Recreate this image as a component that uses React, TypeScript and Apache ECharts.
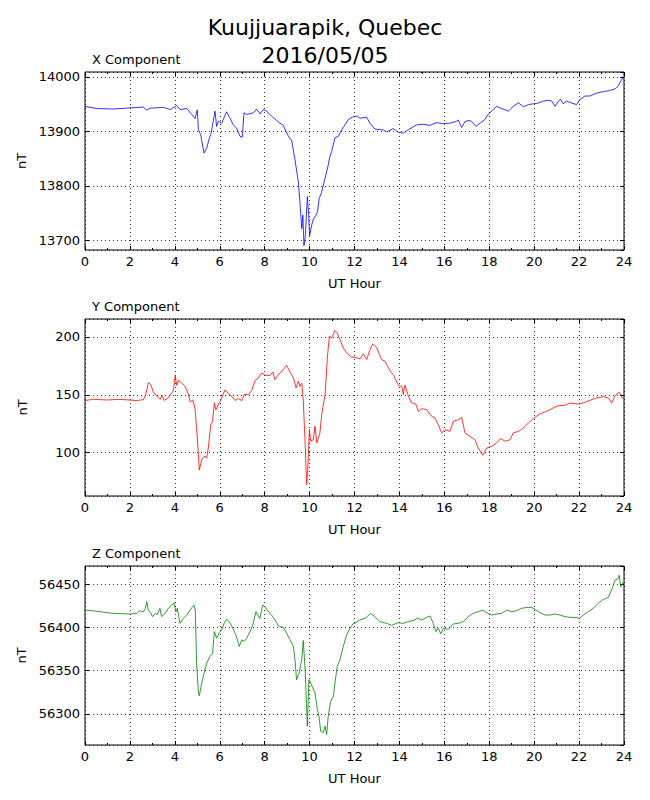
import React, { useEffect, useRef } from "react";
import * as echarts from "echarts";

const FONT = "DejaVu Sans";

const mainTitle = "Kuujjuarapik, Quebec\n2016/05/05";
const panelTitles = ["X Component", "Y Component", "Z Component"];
const xTickLabels = ["0", "2", "4", "6", "8", "10", "12", "14", "16", "18", "20", "22", "24"];

const xHours = [0, 0.52, 1.26, 2.0, 2.6, 2.75, 2.9, 3.5, 3.8, 4.08, 4.23, 4.53, 4.75, 4.9, 5.0, 5.05, 5.15, 5.3, 5.42, 5.54, 5.6, 5.67, 5.79, 5.86, 5.94, 6.09, 6.3, 6.45, 6.6, 6.75, 6.9, 7.0, 7.08, 7.2, 7.5, 7.64, 7.8, 7.94, 8.09, 8.3, 8.53, 8.68, 8.83, 8.98, 9.13, 9.2, 9.35, 9.5, 9.57, 9.65, 9.7, 9.75, 9.81, 9.9, 9.96, 10.0, 10.09, 10.17, 10.29, 10.35, 10.43, 10.52, 10.69, 10.83, 10.9, 10.98, 11.13, 11.28, 11.43, 11.58, 11.73, 11.95, 12.1, 12.24, 12.54, 12.69, 12.91, 13.28, 13.43, 13.73, 13.95, 14.17, 14.4, 14.77, 15.07, 15.36, 15.66, 15.96, 16.25, 16.55, 16.62, 16.77, 16.92, 17.1, 17.22, 17.41, 17.59, 17.8, 17.95, 18.18, 18.33, 18.55, 18.85, 19.07, 19.3, 19.52, 19.74, 19.96, 20.19, 20.41, 20.63, 20.78, 20.93, 21.08, 21.18, 21.29, 21.44, 21.67, 21.89, 22.04, 22.26, 22.48, 22.71, 22.86, 23.08, 23.37, 23.6, 23.74, 23.85, 23.97];
const xValues = [13945.7, 13942, 13941, 13943, 13944.5, 13939, 13942.6, 13944, 13940, 13947.5, 13940, 13942, 13931, 13923.5, 13939.5, 13903, 13894, 13860, 13869, 13888, 13894, 13909, 13937, 13909, 13918.5, 13915, 13936, 13925, 13912, 13906, 13891, 13889, 13934, 13931, 13934, 13941, 13932, 13940, 13937, 13928, 13920, 13915, 13911, 13897, 13886, 13884, 13847.5, 13807, 13770, 13721, 13746, 13690, 13708, 13780, 13746, 13708, 13727, 13739, 13746, 13752, 13777, 13786, 13814, 13838, 13853, 13863, 13888, 13891, 13903, 13912, 13922, 13927, 13928, 13924, 13926, 13915, 13904, 13902.5, 13899, 13905, 13898, 13897, 13903, 13912, 13913, 13911, 13916, 13914, 13915, 13918.5, 13921, 13907, 13918, 13920, 13918, 13909, 13915, 13921.6, 13931, 13940, 13946, 13942, 13937, 13946, 13952.5, 13945, 13949, 13950.6, 13952, 13955.6, 13957, 13955.6, 13946, 13955.6, 13958.6, 13950.6, 13955.6, 13952, 13949, 13958.6, 13964.8, 13964.8, 13969, 13971, 13972.8, 13975, 13977.8, 13983, 13992, 13999];

const yHours = [0, 0.37, 0.96, 1.56, 2.3, 2.6, 2.7, 2.82, 2.93, 3.04, 3.22, 3.34, 3.43, 3.52, 3.67, 3.81, 3.93, 4.02, 4.08, 4.16, 4.3, 4.45, 4.6, 4.68, 4.8, 4.9, 4.97, 5.05, 5.09, 5.2, 5.3, 5.42, 5.49, 5.6, 5.68, 5.76, 5.83, 5.94, 6.09, 6.23, 6.38, 6.53, 6.68, 6.83, 6.98, 7.12, 7.27, 7.42, 7.57, 7.72, 7.87, 8.01, 8.24, 8.36, 8.46, 8.61, 8.83, 8.98, 9.13, 9.28, 9.4, 9.5, 9.57, 9.65, 9.72, 9.81, 9.87, 9.93, 9.99, 10.05, 10.17, 10.24, 10.32, 10.39, 10.46, 10.54, 10.69, 10.79, 10.88, 10.98, 11.13, 11.23, 11.35, 11.5, 11.65, 11.87, 12.02, 12.24, 12.39, 12.54, 12.69, 12.81, 12.99, 13.21, 13.36, 13.59, 13.73, 13.96, 14.11, 14.17, 14.25, 14.4, 14.54, 14.73, 14.84, 14.99, 15.21, 15.43, 15.58, 15.73, 15.88, 16.03, 16.25, 16.4, 16.62, 16.77, 16.92, 17.14, 17.36, 17.51, 17.71, 17.89, 18.11, 18.33, 18.51, 18.71, 18.93, 19.07, 19.3, 19.52, 19.74, 19.96, 20.25, 20.55, 20.85, 21.07, 21.37, 21.59, 21.96, 22.18, 22.48, 22.78, 23.08, 23.3, 23.45, 23.6, 23.79, 23.9, 24];
const yValues = [145, 146.1, 145.5, 146, 145, 145.8, 150, 160.5, 158.8, 152.4, 148.4, 146, 149.3, 145.2, 146.7, 150, 153.6, 166.3, 158.2, 162.5, 160.2, 157.3, 150.7, 143.8, 145.5, 137.8, 121.3, 98.3, 85, 94, 96.8, 95.4, 104, 124.2, 127, 143, 137, 141.5, 147.3, 154.2, 151.3, 148.7, 145, 146.7, 145, 150.7, 150, 153.6, 162.2, 164.6, 168.9, 166.9, 166.6, 169.7, 163.1, 167.4, 171.8, 175.5, 169.7, 164.6, 155.9, 161.7, 157.3, 160, 145, 104, 72.3, 89.6, 120, 109.8, 111.2, 122.8, 108.4, 112.7, 117, 132.9, 150.1, 181.8, 200.6, 199, 205.5, 203.5, 197.7, 190.5, 186.2, 182.4, 182.4, 181, 185.3, 180.4, 189, 194, 190.5, 180.4, 179, 170.3, 167.4, 158, 157.3, 150.1, 158.2, 148.7, 143, 142, 135.7, 138, 137.2, 131.4, 130, 124.2, 117, 119.9, 118.4, 127, 128.5, 130.5, 117, 114.1, 111.2, 104, 97.7, 104, 105.5, 108.4, 112.1, 109.8, 111.2, 117, 118.4, 121.3, 125.6, 129.4, 133.4, 135.7, 138.6, 140.6, 140.9, 142.9, 142, 142.9, 145.2, 147.3, 148.4, 147.3, 142.9, 149.3, 152.2, 147.8, 146.7];

const zHours = [0, 0.67, 1.26, 2.0, 2.3, 2.42, 2.6, 2.69, 2.75, 2.82, 2.92, 3.01, 3.12, 3.22, 3.34, 3.41, 3.56, 3.71, 3.86, 3.96, 4.05, 4.11, 4.23, 4.38, 4.53, 4.68, 4.79, 4.85, 4.91, 4.97, 5.05, 5.09, 5.2, 5.3, 5.42, 5.56, 5.68, 5.76, 5.86, 5.98, 6.09, 6.19, 6.31, 6.43, 6.58, 6.72, 6.87, 6.98, 7.08, 7.2, 7.35, 7.47, 7.61, 7.72, 7.79, 7.91, 8.01, 8.16, 8.31, 8.46, 8.61, 8.83, 8.98, 9.13, 9.28, 9.35, 9.42, 9.53, 9.65, 9.72, 9.81, 9.9, 9.97, 10.05, 10.14, 10.24, 10.35, 10.43, 10.49, 10.61, 10.69, 10.76, 10.83, 10.94, 11.06, 11.13, 11.23, 11.35, 11.5, 11.65, 11.8, 11.95, 12.02, 12.24, 12.47, 12.72, 12.91, 13.13, 13.43, 13.65, 13.95, 14.17, 14.4, 14.7, 14.77, 14.99, 15.21, 15.36, 15.51, 15.63, 15.73, 15.84, 15.96, 16.18, 16.4, 16.62, 16.84, 17.06, 17.28, 17.51, 17.73, 17.88, 18.11, 18.33, 18.55, 18.78, 19.0, 19.22, 19.44, 19.67, 19.89, 20.04, 20.26, 20.48, 20.7, 20.93, 21.15, 21.37, 21.59, 21.82, 22.01, 22.19, 22.41, 22.63, 22.85, 23.08, 23.3, 23.45, 23.6, 23.75, 23.79, 23.85, 23.94, 24];
const zValues = [56420.1, 56418.2, 56416.2, 56415.5, 56416, 56419.3, 56418, 56422, 56429.7, 56420, 56417, 56412.4, 56416, 56415, 56422, 56412.4, 56416, 56422, 56425.8, 56428.5, 56418, 56422, 56404.7, 56410.5, 56414.3, 56420, 56423.9, 56425.8, 56420, 56358.7, 56324, 56321, 56335.7, 56347, 56358.7, 56366.4, 56370, 56395.1, 56387.5, 56394, 56397, 56404.7, 56409.3, 56406.6, 56399, 56391.3, 56377.9, 56385.6, 56383.7, 56387.5, 56395.1, 56402.8, 56418.2, 56413.2, 56410.5, 56425.8, 56423.9, 56418.2, 56414.3, 56408.6, 56401.7, 56400, 56393.2, 56385.6, 56377.9, 56362.5, 56339.5, 56347, 56362.5, 56384.8, 56347, 56285.8, 56339.5, 56335.7, 56330, 56324.2, 56305, 56295.4, 56280, 56278.2, 56285.8, 56276.2, 56297.3, 56314.6, 56320.4, 56335.7, 56354.9, 56362.5, 56377.9, 56391.3, 56399, 56404.7, 56404.7, 56408.6, 56410.5, 56416.2, 56412.4, 56406.6, 56404.7, 56402.4, 56405.5, 56404.7, 56406.6, 56408.6, 56411, 56408.6, 56411.6, 56413.2, 56404.7, 56395.1, 56399, 56392.5, 56399, 56397.8, 56404, 56404.7, 56406.6, 56412.4, 56416.2, 56418.2, 56420, 56417, 56414.3, 56415.5, 56416.2, 56420, 56418.2, 56419.3, 56422, 56423.1, 56423.1, 56420.8, 56417, 56414.3, 56414.3, 56415.5, 56414.3, 56412.4, 56411.6, 56411.6, 56410.5, 56414.3, 56418.2, 56422, 56427.8, 56432.4, 56434.7, 56443.1, 56454.6, 56456.5, 56460.4, 56447, 56451.5, 56450];

const yRanges = [
  [13682, 14009],
  [62.5, 215.5],
  [56264, 56471],
];
const yIntervals = [100, 50, 50];
const lineColors = ["#0000ff", "#ff0000", "#008000"];

function pairs(h: number[], v: number[]) {
  return h.map((x, i) => [x, v[i]]);
}

export default function App() {
  const ref = useRef<HTMLDivElement>(null);
  useEffect(() => {
    if (!ref.current) return;
    const chart = echarts.init(ref.current, null, { renderer: "svg" });
    const tops = [72, 319, 566];
    const heights = [178, 177, 179];
    const seriesData = [pairs(xHours, xValues), pairs(yHours, yValues), pairs(zHours, zValues)];
    const txt = { color: "#000", fontFamily: FONT, fontSize: 13 };
    const grids: any[] = [];
    const xAxes: any[] = [];
    const yAxes: any[] = [];
    const series: any[] = [];
    const titles: any[] = [
      {
        text: mainTitle,
        left: "center",
        top: 13,
        padding: 0,
        textStyle: { color: "#000", fontFamily: FONT, fontSize: 22, fontWeight: "normal", lineHeight: 28 },
      },
    ];
    for (let i = 0; i < 3; i++) {
      grids.push({
        left: 85,
        top: tops[i],
        width: 539,
        height: heights[i],
        show: true,
        borderColor: "#000",
        borderWidth: 1,
        backgroundColor: "transparent",
        containLabel: false,
      });
      titles.push({
        text: panelTitles[i],
        left: 92,
        top: tops[i] - 19,
        padding: 0,
        textStyle: { ...txt, fontWeight: "normal" },
      });
      const [ymin, ymax] = yRanges[i];
      const yi = yIntervals[i];
      const xCommon = {
        type: "value",
        gridIndex: i,
        min: 0,
        max: 24,
        interval: 2,
        axisLine: { show: false, onZero: false },
        axisTick: { show: true, inside: true, length: 4, lineStyle: { color: "#000", width: 1 } },
        minorTick: { show: true, splitNumber: 2, length: 2, lineStyle: { color: "#000", width: 1 } },
      };
      xAxes.push({
        ...xCommon,
        position: "bottom",
        axisLabel: { ...txt, margin: 5, formatter: (v: number) => xTickLabels[Math.round(v / 2)] ?? "" },
        splitLine: { show: true, lineStyle: { color: "#000", type: [1, 3], width: 0.8 } },
        name: "UT Hour",
        nameLocation: "middle",
        nameGap: 27,
        nameTextStyle: txt,
      });
      xAxes.push({
        ...xCommon,
        position: "top",
        axisLabel: { show: false },
        splitLine: { show: false },
      });
      const yCommon = {
        type: "value",
        gridIndex: i,
        min: ymin,
        max: ymax,
        minInterval: yi,
        maxInterval: yi,
        splitNumber: 4,
        axisLine: { show: false, onZero: false },
        axisTick: { show: true, inside: true, length: 4, lineStyle: { color: "#000", width: 1 } },
      };
      yAxes.push({
        ...yCommon,
        position: "left",
        axisLabel: {
          ...txt,
          margin: 5,
          showMinLabel: false,
          showMaxLabel: false,
          formatter: (v: number) => (Math.abs(v / yi - Math.round(v / yi)) < 1e-6 ? String(v) : ""),
        },
        splitLine: { show: true, lineStyle: { color: "#000", type: [1, 3], width: 0.8 } },
        name: "nT",
        nameLocation: "middle",
        nameGap: 56,
        nameRotate: 90,
        nameTextStyle: txt,
      });
      yAxes.push({
        ...yCommon,
        position: "right",
        axisLabel: { show: false },
        splitLine: { show: false },
      });
      series.push({
        type: "line",
        xAxisIndex: i * 2,
        yAxisIndex: i * 2,
        data: seriesData[i],
        showSymbol: false,
        symbol: "none",
        lineStyle: { color: lineColors[i], width: 0.8 },
        clip: true,
      });
    }
    chart.setOption({
      animation: false,
      backgroundColor: "#fff",
      title: titles,
      grid: grids,
      xAxis: xAxes,
      yAxis: yAxes,
      series,
    });
    return () => chart.dispose();
  }, []);
  return <div ref={ref} style={{ position: "fixed", left: 0, top: 0, width: 650, height: 800 }} />;
}
